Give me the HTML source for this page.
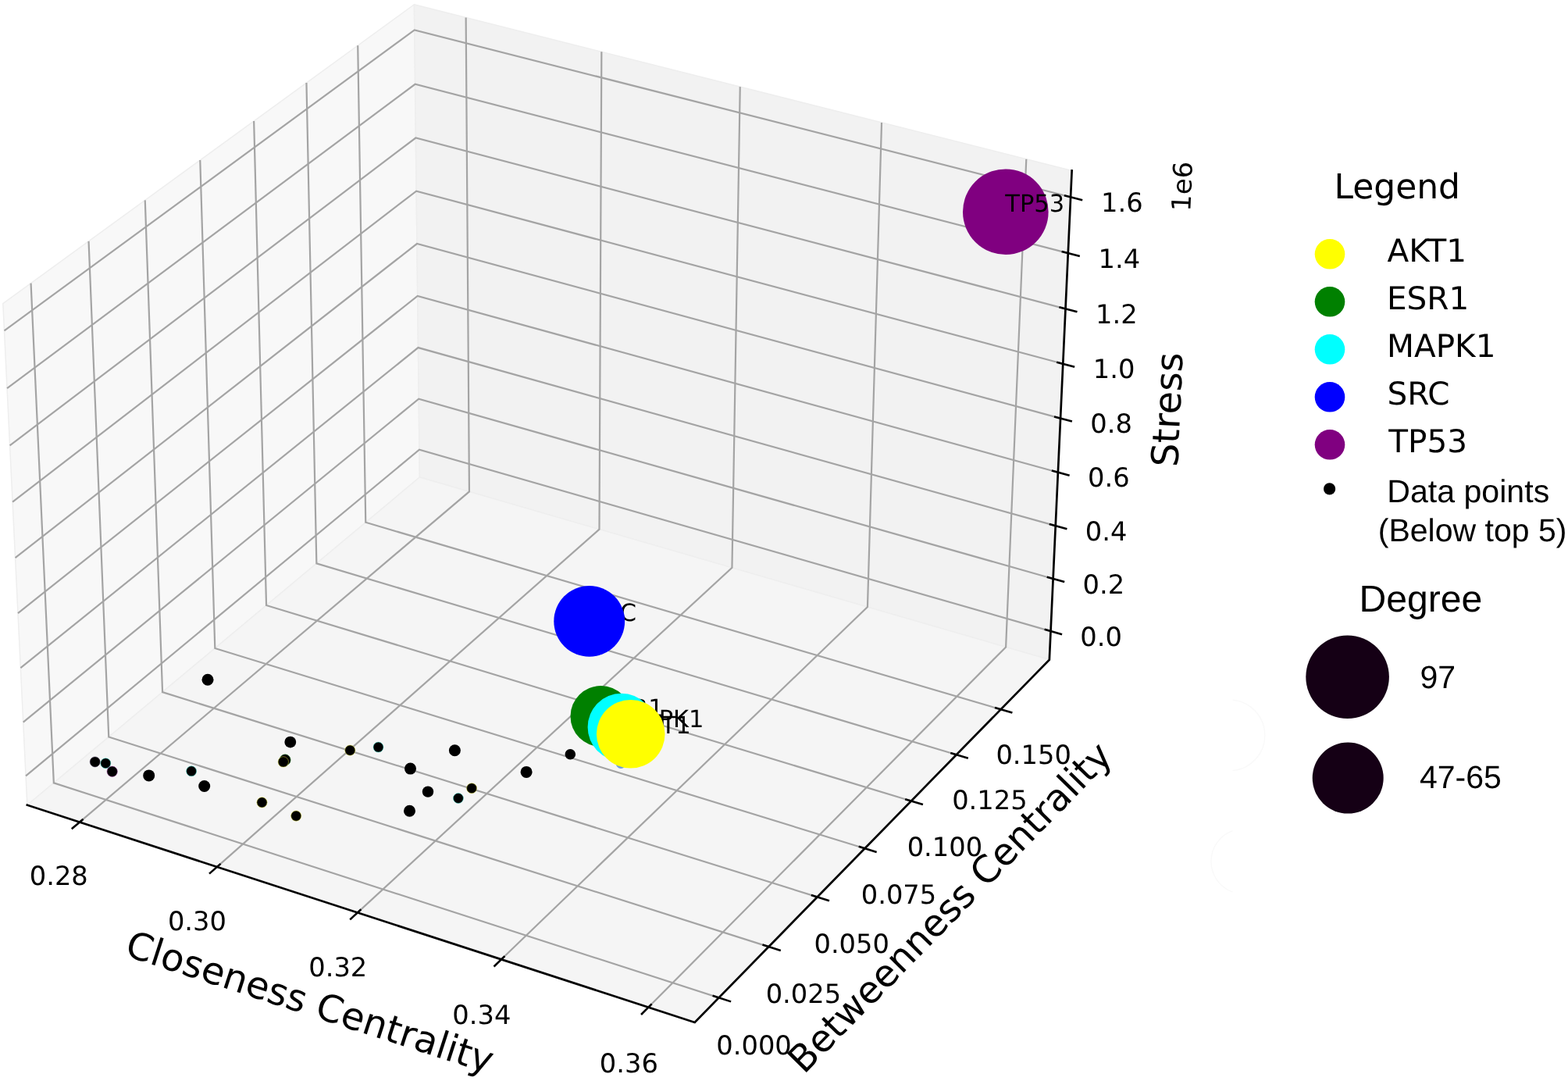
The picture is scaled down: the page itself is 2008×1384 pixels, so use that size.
<!DOCTYPE html>
<html lang="en">
<head>
<meta charset="utf-8">
<title>3D scatter: Closeness Centrality, Betweenness Centrality, Stress</title>
<style>
html,body{margin:0;padding:0;background:#fff;}
body{width:2008px;height:1384px;overflow:hidden;}
svg{display:block;}
</style>
</head>
<body>
<svg text-rendering="geometricPrecision" width="2008" height="1384" viewBox="0 0 2008 1384">
<rect width="2008" height="1384" fill="#fff"/>
<polygon points="34.84,1030.75 537.41,611.04 530.43,5.75 3.80,388.63" fill="#f8f8f8" stroke="#eeeeee" stroke-width="1.5" stroke-linejoin="round"/>
<polygon points="537.41,611.04 1343.86,844.58 1372.64,218.44 530.43,5.75" fill="#f2f2f2" stroke="#eeeeee" stroke-width="1.5" stroke-linejoin="round"/>
<polygon points="34.84,1030.75 889.72,1308.91 1343.86,844.58 537.41,611.04" fill="#f5f5f5" stroke="#eeeeee" stroke-width="1.5" stroke-linejoin="round"/>
<g fill="none" stroke="#a4a4a4" stroke-width="2.2" stroke-linejoin="miter" stroke-linecap="butt">
<polyline points="101.91,1052.57 600.94,629.44 596.64,22.47"/>
<polyline points="277.95,1109.85 767.48,677.66 770.33,66.34"/>
<polyline points="457.95,1168.42 937.45,726.88 947.76,111.14"/>
<polyline points="642.04,1228.32 1110.95,777.13 1129.03,156.92"/>
<polyline points="830.36,1289.60 1288.10,828.43 1314.29,203.70"/>
<polyline points="39.56,362.63 68.85,1002.35 920.57,1277.37"/>
<polyline points="113.54,308.85 139.25,943.56 984.39,1212.11"/>
<polyline points="185.75,256.35 208.05,886.10 1046.68,1148.42"/>
<polyline points="256.26,205.08 275.30,829.94 1107.50,1086.24"/>
<polyline points="325.14,155.00 341.05,775.03 1166.90,1025.51"/>
<polyline points="392.44,106.08 405.36,721.32 1224.92,966.19"/>
<polyline points="458.21,58.26 468.26,668.79 1281.61,908.22"/>
<polyline points="33.04,993.40 537.00,575.71 1345.54,808.10"/>
<polyline points="29.71,924.63 536.25,510.70 1348.62,740.96"/>
<polyline points="26.35,855.18 535.50,445.08 1351.74,673.16"/>
<polyline points="22.96,785.02 534.73,378.87 1354.89,604.72"/>
<polyline points="19.54,714.16 533.96,312.04 1358.06,535.60"/>
<polyline points="16.08,642.58 533.18,244.58 1361.27,465.81"/>
<polyline points="12.58,570.27 532.40,176.50 1364.51,395.34"/>
<polyline points="9.05,497.21 531.60,107.78 1367.78,324.17"/>
<polyline points="5.48,423.41 530.80,38.41 1371.08,252.29"/>
</g>
<g fill="none" stroke="#000" stroke-width="2.7" stroke-linecap="square" stroke-linejoin="miter">
<polyline points="34.84,1030.75 889.72,1308.91 1343.86,844.58 1372.64,218.44"/>
</g>
<g fill="none" stroke="#000" stroke-width="2.6" stroke-linecap="butt">
<line x1="106.52" y1="1048.65" x2="91.78" y2="1061.16"/>
<line x1="282.49" y1="1105.85" x2="268.01" y2="1118.63"/>
<line x1="462.40" y1="1164.33" x2="448.20" y2="1177.40"/>
<line x1="646.39" y1="1224.14" x2="632.50" y2="1237.51"/>
<line x1="834.61" y1="1285.32" x2="821.03" y2="1299.00"/>
<line x1="912.59" y1="1274.79" x2="936.11" y2="1282.38"/>
<line x1="976.47" y1="1209.60" x2="999.80" y2="1217.01"/>
<line x1="1038.83" y1="1145.97" x2="1061.97" y2="1153.20"/>
<line x1="1099.71" y1="1083.84" x2="1122.66" y2="1090.91"/>
<line x1="1159.17" y1="1023.17" x2="1181.93" y2="1030.07"/>
<line x1="1217.26" y1="963.90" x2="1239.83" y2="970.64"/>
<line x1="1274.01" y1="905.98" x2="1296.40" y2="912.57"/>
<line x1="1337.65" y1="805.84" x2="1360.06" y2="812.28"/>
<line x1="1340.70" y1="738.71" x2="1363.22" y2="745.09"/>
<line x1="1343.77" y1="670.94" x2="1366.41" y2="677.26"/>
<line x1="1346.88" y1="602.51" x2="1369.63" y2="608.78"/>
<line x1="1350.01" y1="533.42" x2="1372.88" y2="539.62"/>
<line x1="1353.18" y1="463.65" x2="1376.16" y2="469.79"/>
<line x1="1356.38" y1="393.20" x2="1379.48" y2="399.27"/>
<line x1="1359.61" y1="322.05" x2="1382.83" y2="328.06"/>
<line x1="1362.87" y1="250.20" x2="1386.21" y2="256.14"/>
</g>
<g font-family="'DejaVu Sans', 'Liberation Sans', sans-serif" font-size="33.7" fill="#000" text-anchor="middle">
<text x="75.31" y="1132.87">0.28</text>
<text x="252.45" y="1190.85">0.30</text>
<text x="432.75" y="1250.22">0.32</text>
<text x="616.84" y="1311.22">0.34</text>
<text x="805.36" y="1372.50">0.36</text>
<text x="965.57" y="1350.37">0.000</text>
<text x="1028.89" y="1284.31">0.025</text>
<text x="1090.68" y="1220.02">0.050</text>
<text x="1151.00" y="1156.64">0.075</text>
<text x="1209.90" y="1095.61">0.100</text>
<text x="1267.42" y="1035.59">0.125</text>
<text x="1323.61" y="977.62">0.150</text>
<text x="1410.14" y="827.00">0.0</text>
<text x="1413.32" y="759.81">0.2</text>
<text x="1416.64" y="691.97">0.4</text>
<text x="1419.89" y="623.47">0.6</text>
<text x="1423.16" y="554.30">0.8</text>
<text x="1426.57" y="484.46">1.0</text>
<text x="1429.91" y="413.94">1.2</text>
<text x="1433.38" y="342.72">1.4</text>
<text x="1436.78" y="270.79">1.6</text>
<text transform="translate(1513.30,238.60) rotate(-87.40)" y="12.30">1e6</text>
</g>
<g font-family="'DejaVu Sans', 'Liberation Sans', sans-serif" fill="#000" text-anchor="middle">
<text transform="translate(397.20,1282.20) rotate(18.00)" y="17.52" font-size="48.0">Closeness Centrality</text>
<text transform="translate(1215.60,1160.90) rotate(-45.65)" y="17.45" font-size="47.8">Betweenness Centrality</text>
<text transform="translate(1494.00,524.40) rotate(-87.50)" y="17.41" font-size="47.7">Stress</text>
</g>
<g fill="#000" stroke-width="0.9">
<circle cx="121.7" cy="975.4" r="6.50" stroke="#403050" stroke-opacity="0.55"/>
<circle cx="135.3" cy="977.2" r="6.50" stroke="#40e0d0" stroke-opacity="0.55"/>
<circle cx="143.7" cy="987.8" r="6.70" stroke="#a040a0" stroke-opacity="0.55"/>
<circle cx="190.7" cy="992.9" r="7.5"/>
<circle cx="245.1" cy="987.3" r="6.50" stroke="#40e0d0" stroke-opacity="0.55"/>
<circle cx="261.7" cy="1006.5" r="7.5"/>
<circle cx="266.0" cy="870.2" r="7.5"/>
<circle cx="371.8" cy="950.1" r="7.4"/>
<circle cx="365.1" cy="972.9" r="7.10" stroke="#208020" stroke-opacity="0.55"/>
<circle cx="362.8" cy="975.4" r="6.70" stroke="#e0e040" stroke-opacity="0.55"/>
<circle cx="335.5" cy="1027.3" r="6.60" stroke="#e0e040" stroke-opacity="0.55"/>
<circle cx="379.2" cy="1044.6" r="6.60" stroke="#e0e040" stroke-opacity="0.55"/>
<circle cx="448.3" cy="960.6" r="6.60" stroke="#e0e040" stroke-opacity="0.55"/>
<circle cx="484.5" cy="956.6" r="6.50" stroke="#40e0d0" stroke-opacity="0.55"/>
<circle cx="582.4" cy="960.8" r="7.5"/>
<circle cx="525.5" cy="984.1" r="7.5"/>
<circle cx="548.0" cy="1013.6" r="7.2"/>
<circle cx="586.9" cy="1022.0" r="6.50" stroke="#40e0d0" stroke-opacity="0.55"/>
<circle cx="604.1" cy="1009.2" r="6.50" stroke="#e0e040" stroke-opacity="0.55"/>
<circle cx="524.5" cy="1038.2" r="7.5"/>
<circle cx="674.1" cy="988.4" r="7.5"/>
<circle cx="730.3" cy="965.8" r="6.8"/>
</g>
<g font-family="'DejaVu Sans', 'Liberation Sans', sans-serif" font-size="30.5" fill="#000">
<circle cx="1287.80" cy="271.20" r="54.80" fill="#800080"/>
<text x="1287.30" y="270.70">TP53</text>
<text x="754.70" y="795.00">SRC</text>
<circle cx="754.70" cy="795.40" r="45.40" fill="#0000ff"/>
<text x="770.50" y="917.00">ESR1</text>
<circle cx="769.50" cy="917.00" r="39.00" fill="#008000"/>
<text x="796.50" y="930.50">MAPK1</text>
<circle cx="795.20" cy="977.50" r="6.50" fill="#6f9fd8"/>
<circle cx="795.80" cy="931.00" r="43.20" fill="#00ffff"/>
<text x="808.00" y="938.60">AKT1</text>
<circle cx="807.70" cy="939.80" r="43.80" fill="#ffff00"/>
</g>
<text x="1708.40" y="254.00" font-family="'DejaVu Sans', 'Liberation Sans', sans-serif" font-size="44.0" fill="#000">Legend</text>
<circle cx="1703.00" cy="325.30" r="19.30" fill="#ffff00"/>
<circle cx="1703.00" cy="386.30" r="19.30" fill="#008000"/>
<circle cx="1703.00" cy="447.30" r="19.30" fill="#00ffff"/>
<circle cx="1703.00" cy="508.30" r="19.30" fill="#0000ff"/>
<circle cx="1703.00" cy="569.30" r="19.30" fill="#800080"/>
<circle cx="1702.60" cy="625.90" r="7.60" fill="#000000"/>
<text x="1776.50" y="335.40" font-family="'DejaVu Sans', 'Liberation Sans', sans-serif" font-size="40.5" fill="#000">AKT1</text>
<text x="1776.00" y="396.40" font-family="'DejaVu Sans', 'Liberation Sans', sans-serif" font-size="40.5" fill="#000">ESR1</text>
<text x="1776.00" y="457.40" font-family="'DejaVu Sans', 'Liberation Sans', sans-serif" font-size="40.5" fill="#000">MAPK1</text>
<text x="1776.50" y="518.20" font-family="'DejaVu Sans', 'Liberation Sans', sans-serif" font-size="40.5" fill="#000">SRC</text>
<text x="1778.30" y="579.40" font-family="'DejaVu Sans', 'Liberation Sans', sans-serif" font-size="40.5" fill="#000">TP53</text>
<text x="1776.30" y="643.40" font-family="'Liberation Sans', 'DejaVu Sans', sans-serif" font-size="41.1" fill="#000">Data points</text>
<text x="1764.80" y="693.00" font-family="'Liberation Sans', 'DejaVu Sans', sans-serif" font-size="41.0" fill="#000">(Below top 5)</text>
<text x="1740.60" y="782.80" font-family="'Liberation Sans', 'DejaVu Sans', sans-serif" font-size="48.1" fill="#000">Degree</text>
<circle cx="1725.60" cy="866.70" r="53.30" fill="#150015"/>
<text x="1818.40" y="881.00" font-family="'Liberation Sans', 'DejaVu Sans', sans-serif" font-size="41" fill="#000">97</text>
<circle cx="1726.20" cy="996.10" r="45.50" fill="#150015"/>
<text x="1818.00" y="1008.90" font-family="'Liberation Sans', 'DejaVu Sans', sans-serif" font-size="41" fill="#000">47-65</text>
<g fill="none" stroke="#f9f9f9" stroke-width="1.3"><path d="M1578.6,896.1 A45.5,45.5 0 0 1 1578.6,986.7"/><path d="M1578.6,1063.6 A41.6,41.6 0 0 0 1578.6,1142.0"/></g>
</svg>
</body>
</html>
